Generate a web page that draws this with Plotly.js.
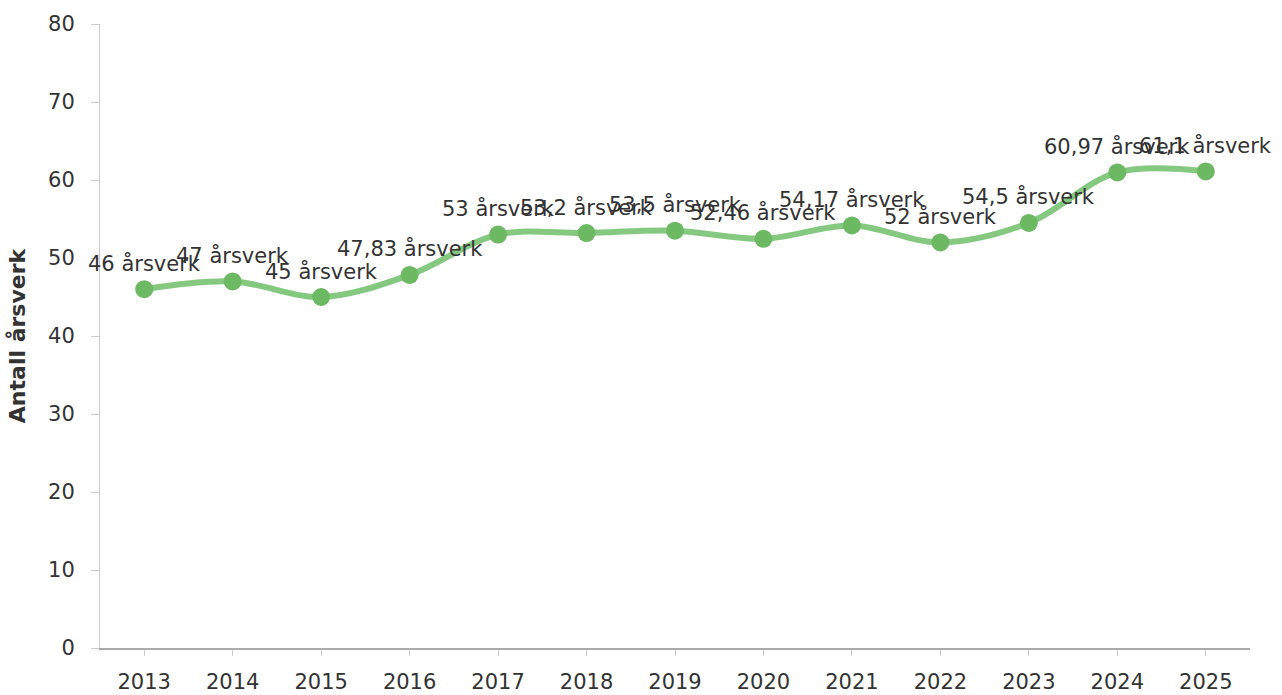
<!DOCTYPE html>
<html>
<head>
<meta charset="utf-8">
<script src="https://cdn.plot.ly/plotly-3.0.1.min.js"></script>
<style>html,body{margin:0;padding:0;background:#fff;}#chart{width:1282px;height:695px;}</style>
</head>
<body>
<div id="chart"></div>
<script>
const years = ["2013","2014","2015","2016","2017","2018","2019","2020","2021","2022","2023","2024","2025"];
const values = [46, 47, 45, 47.83, 53, 53.2, 53.5, 52.46, 54.17, 52, 54.5, 60.97, 61.1];
const labels = ["46 årsverk","47 årsverk","45 årsverk","47,83 årsverk","53 årsverk","53,2 årsverk","53,5 årsverk","52,46 årsverk","54,17 årsverk","52 årsverk","54,5 årsverk","60,97 årsverk","61,1 årsverk"];
const yTicks = [0,10,20,30,40,50,60,70,80];

const font = "DejaVu Sans, Verdana, sans-serif";

const trace = {
  x: years, y: values, type: "scatter", mode: "lines+markers",
  line: {shape: "spline", smoothing: 1, color: "rgba(120,195,115,0.9)", width: 6},
  marker: {size: 18, color: "#6db862"},
  hoverinfo: "skip"
};

const annotations = years.map((yr, i) => ({
  xref: "x", yref: "y", x: i, y: values[i], text: labels[i], showarrow: false,
  yshift: 26, xanchor: "center", yanchor: "middle",
  font: {family: font, size: 21, color: "#333"}
}));

const layout = {
  width: 1282, height: 695,
  margin: {l: 100, r: 32, t: 24, b: 47},
  paper_bgcolor: "#fff", plot_bgcolor: "#fff",
  showlegend: false,
  xaxis: {
    type: "category", range: [-0.5, 12.5],
    showline: true, linecolor: "#aaa", linewidth: 1.5,
    ticks: "outside", ticklen: 6, tickcolor: "#ccc",
    showgrid: false, zeroline: false,
    tickfont: {family: font, size: 21, color: "#333"},
    ticklabelstandoff: 8
  },
  yaxis: {
    range: [0, 80], tickvals: yTicks,
    showline: true, linecolor: "#ccc", linewidth: 1,
    ticks: "outside", ticklen: 8, tickcolor: "#ccc",
    showgrid: false, zeroline: false,
    tickfont: {family: font, size: 21, color: "#333"},
    ticklabelstandoff: 12,
    title: {text: "Antall årsverk", font: {family: font, size: 22, color: "#333", weight: "bold"}, standoff: 16}
  },
  annotations: annotations
};

Plotly.newPlot("chart", [trace], layout, {displayModeBar: false, staticPlot: true});
</script>
</body>
</html>
